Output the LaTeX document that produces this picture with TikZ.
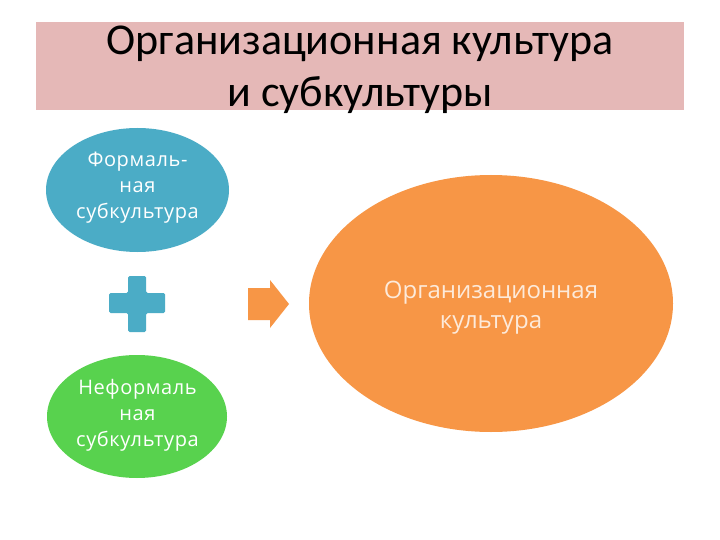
\documentclass[tikz,border=0pt]{standalone}
\usepackage{fontspec}
\setmainfont{Carlito}
\newfontfamily\bodyfont[LetterSpace=3]{Open Sans}
\newfontfamily\bigfont{Open Sans}
\usetikzlibrary{shapes.geometric}
\definecolor{titlebg}{HTML}{E5B8B7}
\definecolor{blueacc}{HTML}{4BACC6}
\definecolor{greenacc}{HTML}{58D24E}
\definecolor{orangeacc}{HTML}{F79646}
\definecolor{creamtxt}{HTML}{FDEADA}
\tikzset{
  blob/.style={ellipse, inner sep=0pt},
  smalltxt/.style={font=\bodyfont\fontsize{20}{26}\selectfont, align=center, text=white},
  bigtxt/.style={font=\bigfont\fontsize{24}{30}\selectfont, align=center, text=creamtxt}
}
\begin{document}
\begin{tikzpicture}[x=1pt,y=-1pt]
\useasboundingbox (0,0) rectangle (720,540);
\fill[white] (0,0) rectangle (720,540);
% title
\fill[titlebg] (36,22) rectangle (684,110);
\node[font=\fontsize{44}{52}\selectfont, align=center, anchor=center] (title) at (360,70) {Организационная культура\\и субкультуры};
% ellipses
\node[blob, fill=blueacc, minimum width=183, minimum height=124] (formal) at (137.5,190) {};
\node[smalltxt] (formaltxt) at (137.5,188) {Формаль-\\ная\\субкультура};
\node[blob, fill=greenacc, minimum width=180, minimum height=123] (informal) at (137,416.5) {};
\node[smalltxt] (informaltxt) at (137.5,415) {Неформаль\\ная\\субкультура};
\node[blob, fill=orangeacc, minimum width=364, minimum height=257] (org) at (491,303.5) {};
\node[bigtxt] (orgtxt) at (491,308) {Организационная\\культура};
% plus
\fill[blueacc, rounded corners=1.5] (128,276) -- (146,276) -- (146,293) -- (165,293) -- (165,313) -- (146,313) -- (146,332) -- (128,332) -- (128,313) -- (109,313) -- (109,293) -- (128,293) -- cycle;
% arrow
\fill[orangeacc] (248,288) -- (270,288) -- (270,280) -- (289,304) -- (270,328) -- (270,320) -- (248,320) -- cycle;
\end{tikzpicture}
\end{document}
